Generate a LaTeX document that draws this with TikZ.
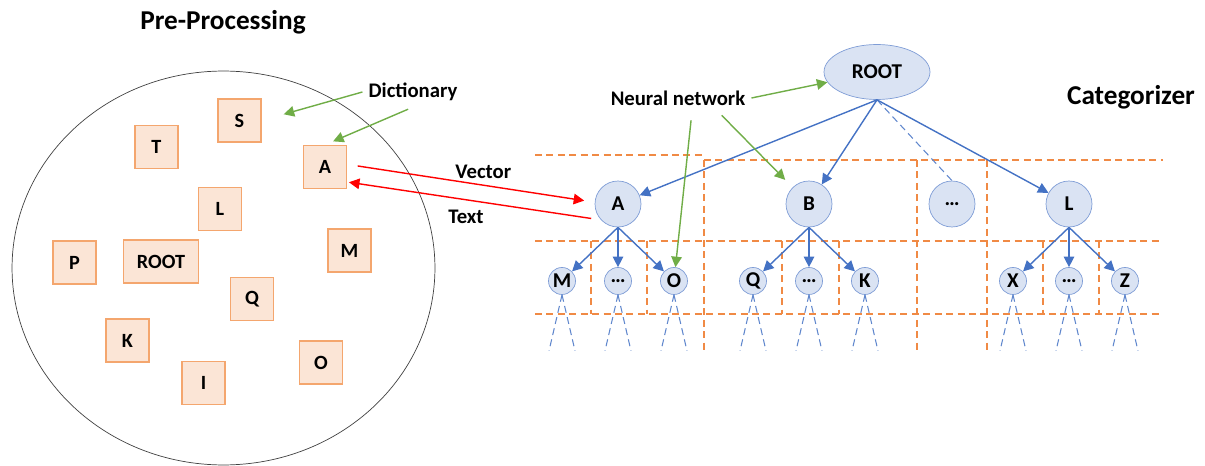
\documentclass[tikz,border=0pt]{standalone}
\usepackage{fontspec}
\setmainfont{Carlito}
\usetikzlibrary{arrows.meta,shapes.geometric}

\definecolor{boxfill}{HTML}{FBE5D6}
\definecolor{boxline}{HTML}{F4A66E}
\definecolor{nodefill}{HTML}{DAE3F3}
\definecolor{nodeline}{HTML}{7F9DD6}
\definecolor{treeblue}{HTML}{4472C4}
\definecolor{gridorange}{HTML}{F08A45}
\definecolor{notegreen}{HTML}{70AD47}

\tikzset{
  word/.style={draw=boxline,fill=boxfill,thick,minimum size=0.86cm,inner sep=0pt,
               font=\fontsize{11.5}{13}\bfseries},
  cat/.style={circle,draw=nodeline,fill=nodefill,minimum size=0.92cm,inner sep=0pt,
              font=\fontsize{12}{14}\bfseries},
  leaf/.style={circle,draw=nodeline,fill=nodefill,minimum size=0.54cm,inner sep=0pt,
               font=\fontsize{12}{14}\bfseries},
  label/.style={font=\fontsize{11.8}{14}\bfseries},
  title/.style={font=\fontsize{15.5}{18}\bfseries},
  branch/.style={draw=treeblue,thick,-{Triangle[length=6pt,width=6pt]}},
  leg/.style={draw=treeblue!85,line width=0.6pt,dash pattern=on 4pt off 2.5pt},
  grid/.style={draw=gridorange,line width=0.7pt,dash pattern=on 4pt off 2.5pt},
  note/.style={draw=notegreen,thick,-{Triangle[length=6pt,width=6pt]}},
  link/.style={draw=red,thick,-{Triangle[length=6pt,width=6pt]}}
}

\begin{document}
\begin{tikzpicture}[x=0.02cm,y=-0.02cm,node distance=1.54cm]
        \useasboundingbox (0,0) rectangle (1205,466);

        % pre-processing
        \node[title] (PP) at (223,22) {Pre-Processing};
        \draw[black!75] (223.5,268) ellipse [x radius=4.23cm, y radius=3.94cm];

        \node[word] (sS) at (239.5,120.5) {S};
        \node[word] (sT) at (156.5,147)   {T};
        \node[word] (sA) at (325,167)     {A};
        \node[word] (sL) at (220,209)     {L};
        \node[word] (sP) at (74.5,262.5)  {P};
        \node[word,minimum width=1.5cm] (sROOT) at (161,261.5) {ROOT};
        \node[word] (sM) at (349.5,250.5) {M};
        \node[word] (sQ) at (252,299)     {Q};
        \node[word] (sK) at (127.5,340.5) {K};
        \node[word] (sI) at (203.5,383)   {I};
        \node[word] (sO) at (321,362.5)   {O};

        \node[label] (Dict) at (413,92) {Dictionary};

        % categorizer
        \node[title] (CAT) at (1131,97) {Categorizer};
        \node[label] (NN)  at (678,98)  {Neural network};

        \node[ellipse,draw=nodeline,fill=nodefill,minimum width=2.12cm,minimum height=1.1cm,
              inner sep=0pt,font=\fontsize{12}{14}\bfseries] (tROOT) at (877,72) {ROOT};

        \node[cat] (tA) at (618,204)  {A};
        \node[cat] (tB) at (809,204)  {B};
        \node[cat] (tD) at (952,204)  {\dots};
        \node[cat] (tL) at (1069,204) {L};

        \node[leaf] (tA2) [below of=tA]                        {\dots};
        \node[leaf] (tM)  [left of=tA2,node distance=1.12cm]   {M};
        \node[leaf] (tO)  [right of=tA2,node distance=1.12cm]  {O};
        \node[leaf] (tB2) [below of=tB]                        {\dots};
        \node[leaf] (tQ)  [left of=tB2,node distance=1.12cm]   {Q};
        \node[leaf] (tK)  [right of=tB2,node distance=1.12cm]  {K};
        \node[leaf] (tL2) [below of=tL]                        {\dots};
        \node[leaf] (tX)  [left of=tL2,node distance=1.12cm]   {X};
        \node[leaf] (tZ)  [right of=tL2,node distance=1.12cm]  {Z};

        % level grid
        \draw[grid] (535,155) -- (704,155);
        \draw[grid] (704,160) -- (1163,160);
        \draw[grid] (535,241) -- (1163,241);
        \draw[grid] (535,314) -- (1163,314);
        \foreach \gx in {704,917,987}
          \draw[grid] (\gx,160) -- (\gx,352);
        \foreach \gx in {591,647,782,839,1043,1099}
          \draw[grid] (\gx,241) -- (\gx,314);

        % tree
        \path
              (tROOT.south) edge[branch] (tA)
                            edge[branch] (tB)
                            edge[leg]    (tD.north)
                            edge[branch] (tL)
              (tA.south)    edge[branch] (tM)
                            edge[branch] (tA2)
                            edge[branch] (tO)
              (tB.south)    edge[branch] (tQ)
                            edge[branch] (tB2)
                            edge[branch] (tK)
              (tL.south)    edge[branch] (tX)
                            edge[branch] (tL2)
                            edge[branch] (tZ);

        \foreach \n in {tM,tA2,tO,tQ,tB2,tK,tX,tL2,tZ} {
          \path (\n.south) ++(-13,56) coordinate (\n-l);
          \path (\n.south) ++(13,56)  coordinate (\n-r);
          \draw[leg] (\n.south) -- (\n-l);
          \draw[leg] (\n.south) -- (\n-r);
        }

        % notes
        \draw[note,shorten >=13pt] (Dict.west) -- (sS.east);
        \draw[note,shorten <=3pt,shorten >=5pt] (Dict.south) -- (sA.north);
        \draw[note] (NN.east) -- (tROOT);
        \draw[note,shorten <=5pt] ([xshift=0.28cm]NN.south) -- (tO);
        \draw[note,shorten <=3pt,shorten >=6pt] ([xshift=0.8cm]NN.south) -- (tB);

        % vector / text
        \draw[link,shorten <=6pt,shorten >=6pt]
              ([yshift=1.5pt]sA.east) -- node[label,pos=0.55,above] {Vector} ([yshift=1pt]tA.west);
        \draw[link,shorten <=2pt,shorten >=1pt]
              ([yshift=-0.3cm]tA.west) -- node[label,pos=0.52,below=2pt] {Text} ([yshift=-0.3cm]sA.east);
\end{tikzpicture}
\end{document}
